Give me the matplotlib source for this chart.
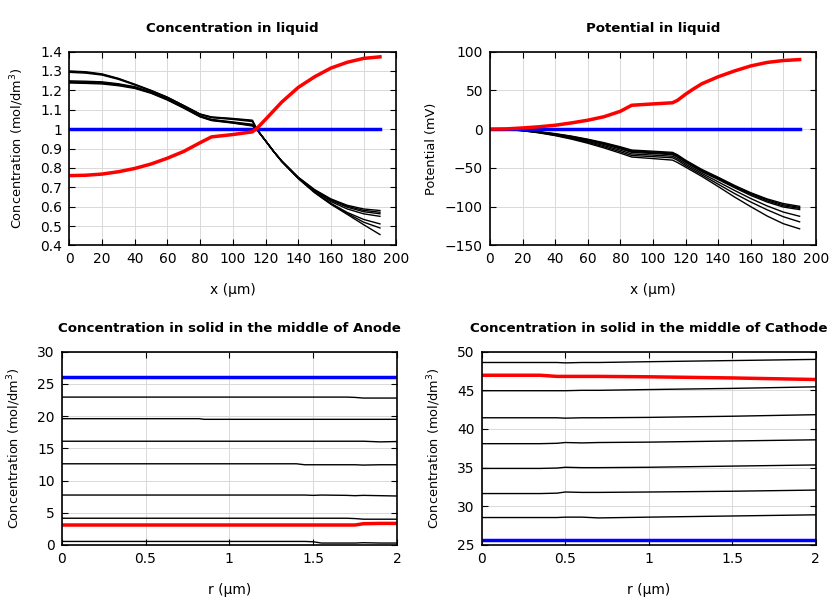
import numpy as np
import matplotlib
matplotlib.use("Agg")
import matplotlib.pyplot as plt

# ---- concentration in liquid ----
x_liq = [0, 10, 20, 30, 40, 50, 60, 70, 80, 87, 100, 112, 115, 120, 125, 130, 140, 150, 160, 170, 180, 190]
c_liq_black = [
    [1.238, 1.236, 1.233, 1.224, 1.21, 1.185, 1.15, 1.108, 1.063, 1.044, 1.031, 1.016,
     0.995, 0.94, 0.885, 0.835, 0.752, 0.688, 0.64, 0.607, 0.588, 0.58],
    [1.242, 1.24, 1.237, 1.228, 1.213, 1.187, 1.152, 1.11, 1.065, 1.046, 1.033, 1.019,
     0.995, 0.94, 0.885, 0.835, 0.751, 0.686, 0.636, 0.602, 0.581, 0.571],
    [1.245, 1.243, 1.24, 1.231, 1.216, 1.189, 1.154, 1.112, 1.067, 1.048, 1.035, 1.022,
     0.995, 0.94, 0.885, 0.834, 0.75, 0.684, 0.632, 0.597, 0.574, 0.563],
    [1.249, 1.247, 1.244, 1.234, 1.219, 1.191, 1.156, 1.114, 1.069, 1.05, 1.037, 1.025,
     0.995, 0.94, 0.885, 0.834, 0.749, 0.681, 0.626, 0.588, 0.563, 0.55],
    [1.293, 1.289, 1.279, 1.257, 1.228, 1.197, 1.162, 1.12, 1.076, 1.059, 1.05, 1.039,
     0.995, 0.94, 0.884, 0.833, 0.747, 0.676, 0.617, 0.57, 0.534, 0.511],
    [1.297, 1.293, 1.282, 1.26, 1.23, 1.199, 1.164, 1.121, 1.077, 1.061, 1.053, 1.043,
     0.995, 0.94, 0.884, 0.832, 0.745, 0.672, 0.612, 0.56, 0.507, 0.456],
    [1.30, 1.296, 1.285, 1.262, 1.232, 1.20, 1.165, 1.122, 1.078, 1.063, 1.055, 1.046,
     0.995, 0.94, 0.884, 0.832, 0.746, 0.674, 0.615, 0.565, 0.52, 0.49],
]
c_liq_red = [0.76, 0.762, 0.768, 0.78, 0.797, 0.82, 0.85, 0.885, 0.93, 0.96, 0.972, 0.986,
             1.006, 1.05, 1.095, 1.14, 1.215, 1.27, 1.315, 1.345, 1.365, 1.373]
c_liq_blue = [1.0] * len(x_liq)

# ---- potential in liquid ----
x_pot = [0, 10, 20, 30, 40, 50, 60, 70, 80, 87, 100, 112, 115, 120, 125, 130, 140, 150, 160, 170, 180, 190]
phi_black = [
    [0, -0.3, -1.5, -3.3, -5.8, -9, -13, -17.5, -22.8, -27, -28.5, -30,
     -33, -40, -46, -52, -62, -72.5, -82, -90, -96, -99.6],
    [0, -0.3, -1.6, -3.5, -6.1, -9.5, -13.6, -18.3, -23.7, -28, -29.5, -31,
     -34, -41, -47, -53, -63, -73.5, -83, -91, -97.5, -101],
    [0, -0.3, -1.7, -3.7, -6.5, -10, -14.2, -19, -24.6, -29, -30.5, -32,
     -35, -42, -48, -54, -64, -74.5, -84, -92.5, -99, -102.2],
    [0, -0.3, -1.8, -3.9, -6.8, -10.5, -14.8, -19.8, -25.5, -30, -31.5, -33,
     -36, -43, -49, -55, -65, -75.5, -85.5, -94, -100.5, -103.8],
    [0, -0.4, -1.9, -4.2, -7.4, -11.3, -16, -21.3, -27.3, -32, -33.5, -35,
     -38, -45, -51, -57, -68, -79, -89.5, -99, -107, -112.4],
    [0, -0.4, -2, -4.5, -7.9, -12.1, -17.1, -22.8, -29.2, -34, -35.5, -37,
     -40, -47, -53, -59, -71, -83, -94, -104, -113, -119.6],
    [0, -0.4, -2.1, -4.8, -8.4, -12.9, -18.2, -24.3, -31, -36, -38, -40,
     -43, -49, -55, -61, -74, -87.5, -100, -112, -122, -128.6],
]
phi_red = [0, 0.3, 1.5, 3, 5, 8, 11.5, 16, 23, 30.8, 32.5, 34,
           37, 45, 52, 58.5, 67.5, 75, 81.5, 86, 88.5, 89.7]
phi_blue = [0] * len(x_pot)

# ---- solid, anode ----
r_an = [0, 0.5, 0.82, 0.85, 1.4, 1.45, 1.5, 1.55, 1.7, 1.75, 1.8, 1.9, 2.0]
cs_an_black = [
    [22.95, 22.95, 22.95, 22.95, 22.95, 22.95, 22.95, 22.95, 22.95, 22.9, 22.8, 22.8, 22.8],
    [19.6, 19.6, 19.6, 19.5, 19.5, 19.5, 19.5, 19.5, 19.5, 19.5, 19.5, 19.5, 19.5],
    [16.1, 16.1, 16.1, 16.1, 16.1, 16.1, 16.1, 16.1, 16.1, 16.1, 16.1, 16.0, 16.05],
    [12.6, 12.6, 12.6, 12.6, 12.6, 12.45, 12.45, 12.45, 12.45, 12.45, 12.4, 12.45, 12.45],
    [7.75, 7.75, 7.75, 7.75, 7.75, 7.75, 7.7, 7.75, 7.7, 7.65, 7.7, 7.65, 7.6],
    [4.15, 4.15, 4.15, 4.15, 4.15, 4.15, 4.15, 4.15, 4.15, 4.1, 4.0, 4.0, 4.0],
    [0.55, 0.55, 0.55, 0.55, 0.55, 0.55, 0.5, 0.3, 0.3, 0.3, 0.35, 0.3, 0.3],
]
cs_an_red = [3.1, 3.1, 3.1, 3.1, 3.1, 3.1, 3.1, 3.1, 3.1, 3.1, 3.3, 3.35, 3.35]
cs_an_blue = [26.1] * len(r_an)

# ---- solid, cathode ----
r_ca = [0, 0.35, 0.45, 0.5, 0.6, 0.7, 1.0, 1.5, 2.0]
cs_ca_black = [
    [48.6, 48.6, 48.6, 48.55, 48.6, 48.6, 48.7, 48.85, 49.0],
    [44.95, 44.95, 44.95, 44.95, 45.0, 45.0, 45.1, 45.25, 45.45],
    [41.45, 41.45, 41.45, 41.4, 41.45, 41.45, 41.5, 41.65, 41.85],
    [38.1, 38.1, 38.15, 38.25, 38.2, 38.25, 38.3, 38.45, 38.6],
    [34.9, 34.9, 34.95, 35.05, 35.0, 35.0, 35.05, 35.2, 35.35],
    [31.65, 31.65, 31.7, 31.85, 31.8, 31.8, 31.85, 31.95, 32.1],
    [28.55, 28.55, 28.55, 28.6, 28.6, 28.5, 28.6, 28.75, 28.9],
]
cs_ca_red = [46.95, 46.95, 46.8, 46.8, 46.8, 46.8, 46.75, 46.6, 46.4]
cs_ca_blue = [25.65] * len(r_ca)

fig = plt.figure(figsize=(8.4, 6), dpi=100)
ax1 = fig.add_axes([0.0825, 0.591, 0.3893, 0.323])
ax2 = fig.add_axes([0.5833, 0.591, 0.388, 0.323])
ax3 = fig.add_axes([0.0735, 0.0917, 0.399, 0.3222])
ax4 = fig.add_axes([0.5735, 0.0917, 0.3977, 0.3222])


def style(ax):
    ax.grid(True, color="#d9d9d9", linewidth=0.7)
    ax.set_axisbelow(True)
    ax.tick_params(direction="in", top=True, right=True, length=4, labelsize=10, pad=5)
    for s in ax.spines.values():
        s.set_linewidth(1.2)


tfont = dict(fontweight="bold", fontsize=9.6)

for c in c_liq_black:
    ax1.plot(x_liq, c, color="black", lw=1.0)
ax1.plot(x_liq, c_liq_blue, color="blue", lw=2.5)
ax1.plot(x_liq, c_liq_red, color="red", lw=2.5)
ax1.set_xlim(0, 200)
ax1.set_ylim(0.4, 1.4)
ax1.set_xticks(np.arange(0, 201, 20))
ax1.set_yticks(np.arange(0.4, 1.41, 0.1))
ax1.set_yticklabels(["0.4", "0.5", "0.6", "0.7", "0.8", "0.9", "1", "1.1", "1.2", "1.3", "1.4"])
ax1.set_xlabel("x (µm)", labelpad=12)
ax1.set_ylabel("Concentration (mol/dm$^3$)", fontsize=9.3, labelpad=10)
ax1.set_title("Concentration in liquid", pad=14, **tfont)
style(ax1)

for p in phi_black:
    ax2.plot(x_pot, p, color="black", lw=1.0)
ax2.plot(x_pot, phi_blue, color="blue", lw=2.5)
ax2.plot(x_pot, phi_red, color="red", lw=2.5)
ax2.set_xlim(0, 200)
ax2.set_ylim(-150, 100)
ax2.set_xticks(np.arange(0, 201, 20))
ax2.set_yticks(np.arange(-150, 101, 50))
ax2.set_xlabel("x (µm)", labelpad=12)
ax2.set_ylabel("Potential (mV)", fontsize=9.3, labelpad=5)
ax2.set_title("Potential in liquid", pad=14, **tfont)
style(ax2)

for c in cs_an_black:
    ax3.plot(r_an, c, color="black", lw=1.0)
ax3.plot(r_an, cs_an_blue, color="blue", lw=2.5)
ax3.plot(r_an, cs_an_red, color="red", lw=2.5)
ax3.set_xlim(0, 2)
ax3.set_ylim(0, 30)
ax3.set_xticks([0, 0.5, 1, 1.5, 2])
ax3.set_xticklabels(["0", "0.5", "1", "1.5", "2"])
ax3.set_yticks(np.arange(0, 31, 5))
ax3.set_xlabel("r (µm)", labelpad=12)
ax3.set_ylabel("Concentration (mol/dm$^3$)", fontsize=9.3, labelpad=10)
ax3.set_title("Concentration in solid in the middle of Anode", pad=14, **tfont)
style(ax3)

for c in cs_ca_black:
    ax4.plot(r_ca, c, color="black", lw=1.0)
ax4.plot(r_ca, cs_ca_blue, color="blue", lw=2.5)
ax4.plot(r_ca, cs_ca_red, color="red", lw=2.5)
ax4.set_xlim(0, 2)
ax4.set_ylim(25, 50)
ax4.set_xticks([0, 0.5, 1, 1.5, 2])
ax4.set_xticklabels(["0", "0.5", "1", "1.5", "2"])
ax4.set_yticks(np.arange(25, 51, 5))
ax4.set_xlabel("r (µm)", labelpad=12)
ax4.set_ylabel("Concentration (mol/dm$^3$)", fontsize=9.3, labelpad=10)
ax4.set_title("Concentration in solid in the middle of Cathode", pad=14, **tfont)
style(ax4)

fig.savefig("out.png", dpi=100)
